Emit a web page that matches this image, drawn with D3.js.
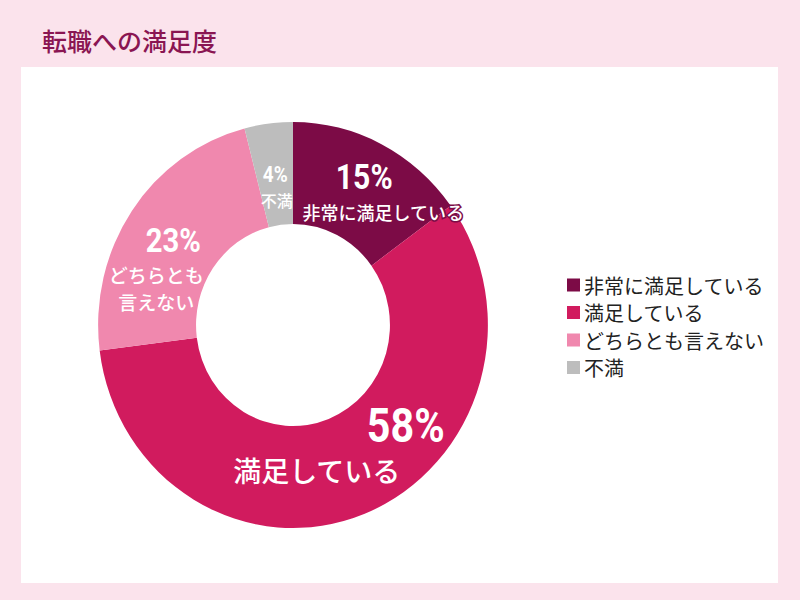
<!DOCTYPE html>
<html>
<head>
<meta charset="utf-8">
<script src="https://cdn.jsdelivr.net/npm/d3@7"></script>
<style>
  html, body { margin: 0; padding: 0; background: #fbe3ec; }
  svg { display: block; }
</style>
</head>
<body>
<div id="chart"></div>
<script>
// 転職への満足度 - donut chart

const categories = ["非常に満足している", "満足している", "どちらとも言えない", "不満"];
const values = [15, 58, 23, 4];
const sliceLabels = [["非常に満足している"], ["満足している"], ["どちらとも", "言えない"], ["不満"]];
const palette = ["#7c0b46", "#d11b5e", "#f088ae", "#bdbdbd"];

const width = 800, height = 600;
const cx = 293, cy = 325;
const outerR = 203, innerR = 101, sx = 0.96;
const jp = "'Noto Sans CJK JP', 'Noto Sans', sans-serif";
const num = "Roboto, 'Liberation Sans', sans-serif";

const svg = d3.select('#chart').append('svg')
  .attr('width', width)
  .attr('height', height);

// background + white panel
svg.append('rect').attr('width', width).attr('height', height).attr('fill', '#fbe3ec');
svg.append('rect')
  .attr('x', 21).attr('y', 67)
  .attr('width', 757).attr('height', 516)
  .attr('fill', '#fff');

svg.append('text')
  .attr('x', 42).attr('y', 40)
  .attr('dominant-baseline', 'central')
  .attr('font-family', jp)
  .attr('font-size', 25)
  .attr('font-weight', 500)
  .attr('fill', '#8a1552')
  .text('転職への満足度');

const color = d3.scaleOrdinal().domain(categories).range(palette);

const pie = d3.pie().sort(null).value(d => d.value);
const data = categories.map((c, i) => ({ name: c, value: values[i], lines: sliceLabels[i] }));
const arcs = pie(data);

const arc = d3.arc().innerRadius(innerR).outerRadius(outerR);
const mid = d3.arc().innerRadius((innerR + outerR) / 2).outerRadius((innerR + outerR) / 2);

svg.append('g')
  .attr('transform', `translate(${cx},${cy}) scale(${sx},1)`)
  .selectAll('path')
  .data(arcs)
  .enter().append('path')
  .attr('d', arc)
  .attr('fill', d => color(d.data.name));

// label tweaks around each slice centroid: [pct dx, dy, size], then text lines
const labelLayout = [
  { pct: [5, -12, 35], lines: [[24, 22, 18]] },
  { pct: [59, -41, 48], lines: [[-30, 4, 28]] },
  { pct: [1, 1.5, 34], lines: [[-16, 35, 19], [-16, 62, 19]] },
  { pct: [0.5, 0.5, 22], lines: [[2, 26, 16]] }
];

const labels = svg.append('g');
arcs.forEach((d, i) => {
  const c = mid.centroid(d);
  const x0 = cx + c[0] * sx, y0 = cy + c[1];
  const L = labelLayout[i];
  labels.append('text')
    .attr('transform', `translate(${x0 + L.pct[0]},${y0 + L.pct[1]}) scale(0.86,1)`)
    .attr('text-anchor', 'middle')
    .attr('dominant-baseline', 'central')
    .attr('font-family', num)
    .attr('font-weight', 'bold')
    .attr('font-size', L.pct[2])
    .attr('fill', '#fff')
    .text(d.data.value + '%');
  d.data.lines.forEach((t, j) => {
    const l = L.lines[j];
    labels.append('text')
      .attr('x', x0 + l[0]).attr('y', y0 + l[1])
      .attr('text-anchor', 'middle')
      .attr('dominant-baseline', 'central')
      .attr('font-family', jp)
      .attr('font-size', l[2])
      .attr('font-weight', 500)
      .attr('fill', '#fff')
      .style('paint-order', 'stroke')
      .attr('stroke', i === 0 ? color(d.data.name) : 'none')
      .attr('stroke-width', i === 0 ? 3 : 0)
      .text(t);
  });
});

// legend
const legend = svg.append('g').attr('transform', 'translate(567,285)');
const row = legend.selectAll('g')
  .data(categories)
  .enter().append('g')
  .attr('transform', (d, i) => `translate(0,${i * 27.5})`);
row.append('rect')
  .attr('x', 0).attr('y', -6.5)
  .attr('width', 13).attr('height', 13)
  .attr('fill', d => color(d));
row.append('text')
  .attr('x', 17).attr('y', 0)
  .attr('dominant-baseline', 'central')
  .attr('font-family', jp)
  .attr('font-size', 20)
  .attr('fill', '#222')
  .text(d => d);
</script>
</body>
</html>
